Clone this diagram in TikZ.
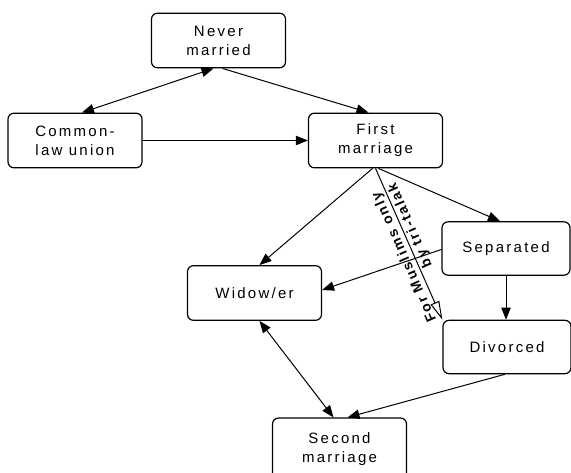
\documentclass[tikz,border=0pt]{standalone}
\usepackage{fontspec}
\newfontfamily\boxfont{Liberation Sans}[LetterSpace=15]
\newfontfamily\labelfont{Liberation Sans}[LetterSpace=14]
\usetikzlibrary{arrows.meta,calc}

\begin{document}
\begin{tikzpicture}[x=0.75pt,y=-0.75pt,
    >={Triangle[length=9pt,width=7pt]},
    state/.style={draw,line width=0.9pt,rounded corners=4.5pt,minimum width=100.5pt,minimum height=41pt,
        inner sep=0pt,align=center,font=\boxfont\fontsize{11.25}{14.25}\selectfont},
    conn/.style={line width=0.75pt},
    note/.style={font=\labelfont\bfseries\fontsize{10.5}{12}\selectfont,inner sep=1.5pt}]
    \useasboundingbox (0,0) rectangle (571,473);

    \node[state] (never) at (218.5,40.5) {Never\\married};
    \node[state] (common) at (75,140.5) {Common-\\law union};
    \node[state] (first) at (375.5,140.5) {First\\marriage};
    \node[state,minimum width=96pt,minimum height=40pt] (sep) at (506,248.5) {Separated};
    \node[state] (widow) at (254.5,293) {Widow/er};
    \node[state,minimum width=96pt,minimum height=40pt] (div) at (507,347) {Divorced};
    \node[state,minimum height=46pt] (second) at (339.5,448.7) {Second\\marriage};

    \draw[conn,<->] ($(never.south)+(-5,0)$) -- ($(common.north)+(7,0)$);
    \draw[conn,->] ($(never.south)+(4,0)$) -- ($(first.north)+(-7,0)$);
    \draw[conn,->] (common) -- (first);
    \draw[conn,->] ($(first.south)+(-3,0)$) -- ($(widow.north)+(5,0)$);
    \draw[conn,->] ($(first.south)+(3,0)$) -- ($(sep.north)+(-6,0)$);
    \draw[conn,->] ($(sep.west)+(0,1)$) -- ($(widow.east)+(0,-3)$);
    \draw[conn,->] (sep.south) -- (sep.south |- div.north);
    \draw[conn,<->] ($(widow.south)+(5,0)$) -- ($(second.north)+(-6,0)$);
    \draw[conn,->] ($(div.south)+(-2,0)$) -- ($(second.north)+(8,0)$);

    \draw[conn,{Triangle[open,length=14pt,width=7pt]}-] (div.north west) -- (first.south)
        node[note,pos=0.44,sloped,allow upside down,above] {For Muslims only}
        node[note,pos=0.6,sloped,allow upside down,below] {by tri-talak};
\end{tikzpicture}
\end{document}
